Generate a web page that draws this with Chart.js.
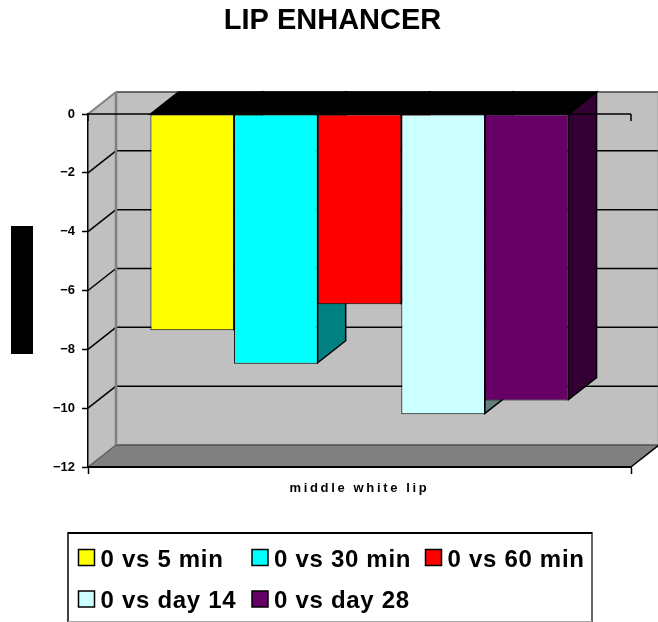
<!DOCTYPE html>
<html>
<head>
<meta charset="utf-8">
<style>html,body{margin:0;padding:0;background:#fff}canvas{display:block}</style>
<script src="https://cdn.jsdelivr.net/npm/chart.js@4"></script>
</head>
<body>
<canvas id="c" width="658" height="622"></canvas>
<script>
const categories = ['middle white lip'];
const seriesNames = ['0 vs 5 min', '0 vs 30 min', '0 vs 60 min', '0 vs day 14', '0 vs day 28'];
const seriesValues = [-7.35, -8.49, -6.47, -10.21, -9.74];
const faceColors = ['#FFFF00', '#00FFFF', '#FF0000', '#CCFFFF', '#660066'];
const sideColors = ['#808000', '#008080', '#800000', '#668080', '#330033'];
const titleText = 'LIP ENHANCER';

const DX = 28, DY = 22;
const FONT = 'Liberation Sans, Arial, sans-serif';

function line(ctx, x1, y1, x2, y2, color, w) {
  ctx.strokeStyle = color; ctx.lineWidth = w;
  ctx.beginPath(); ctx.moveTo(x1, y1); ctx.lineTo(x2, y2); ctx.stroke();
}
function poly(ctx, pts, fill, stroke, w) {
  ctx.beginPath();
  pts.forEach((p, i) => i ? ctx.lineTo(p[0], p[1]) : ctx.moveTo(p[0], p[1]));
  ctx.closePath();
  ctx.fillStyle = fill; ctx.fill();
  if (stroke) { ctx.strokeStyle = stroke; ctx.lineWidth = w; ctx.lineJoin = 'miter'; ctx.stroke(); }
}

const scene3d = {
  id: 'scene3d',
  afterLayout(chart) {
    chart.titleBlock.left = 34;
    chart.titleBlock.right = 631;
    const xs = chart.scales.x;
    if (!xs._spaced) {
      const orig = xs.drawLabels;
      xs.drawLabels = function (a) {
        chart.ctx.letterSpacing = '2.65px';
        orig.call(this, a);
        chart.ctx.letterSpacing = '0px';
      };
      xs._spaced = true;
    }
  },
  beforeDraw(chart) {
    const ctx = chart.ctx, { x, y } = chart.scales;
    const L = x.left, R = x.right, T = y.getPixelForValue(0), B = y.getPixelForValue(-12);
    ctx.save();
    ctx.fillStyle = '#000';
    ctx.fillRect(11, 226, 22, 128);
    // back wall, side wall, floor
    poly(ctx, [[L + DX, T - DY], [R + DX, T - DY], [R + DX, B - DY], [L + DX, B - DY]], '#C0C0C0');
    poly(ctx, [[L, T], [L + DX, T - DY], [L + DX, B - DY], [L, B]], '#C0C0C0');
    poly(ctx, [[L, B], [L + DX, B - DY], [R + DX, B - DY], [R, B]], '#808080');
    y.ticks.forEach(t => {
      if (t.value === 0 || t.value === -12) return;
      const p = y.getPixelForValue(t.value);
      line(ctx, L, p, L + DX, p - DY, '#000', 1.5);
      line(ctx, L + DX, p - DY, R + DX, p - DY, '#000', 1.5);
    });
    line(ctx, L + DX, T - DY, R + DX, T - DY, '#404040', 1.5);
    line(ctx, L + DX, B - DY, R + DX, B - DY, '#505050', 1.5);
    line(ctx, L, T, L + DX, T - DY, '#808080', 2);
    line(ctx, L, B, L + DX, B - DY, '#606060', 1.5);
    line(ctx, L + DX, T - DY, L + DX, B - DY, '#808080', 2.5);
    line(ctx, R + DX - 0.5, T - DY, R + DX - 0.5, B - DY, '#808080', 1.5);
    line(ctx, R, B, R + DX, B - DY, '#000', 1.5);
    ctx.restore();
  },
  beforeDatasetDraw() {
    return false; // bars are painted left to right below, so each front covers its neighbour's side
  },
  afterDatasetsDraw(chart) {
    const ctx = chart.ctx, { x, y } = chart.scales, T = y.getPixelForValue(0);
    ctx.save();
    seriesNames.forEach((_, i) => {
      chart.getDatasetMeta(i).data.forEach(bar => {
        const r = bar.x + bar.width / 2, l = bar.x - bar.width / 2, b = bar.y - 1;
        poly(ctx, [[r, T], [r + DX, T - DY], [r + DX, b - DY], [r, b]], sideColors[i], '#000', 1.5);
        poly(ctx, [[l, T], [l + DX, T - DY], [r + DX, T - DY], [r, T]], '#000', '#000', 1.5);
        bar.draw(ctx);
      });
    });
    line(ctx, x.left, T, x.right, T, '#000', 1.5);
    line(ctx, x.left, T, x.left, T + 7, '#000', 1.5);
    line(ctx, x.right, T, x.right, T + 7, '#000', 1.5);
    ctx.restore();
  },
  afterDraw(chart) {
    const ctx = chart.ctx;
    ctx.save();
    line(ctx, 68, 533, 592, 533, '#000', 2);
    line(ctx, 68, 532, 68, 622, '#000', 1.5);
    line(ctx, 592, 532, 592, 622, '#000', 1.2);
    line(ctx, 68, 621.5, 592, 621.5, '#A8A8A8', 1);
    ctx.font = 'bold 24px ' + FONT;
    ctx.letterSpacing = '0.7px';
    ctx.textBaseline = 'alphabetic'; ctx.textAlign = 'left';
    const cols = [78.5, 252, 425.5, 78.5, 252], rows = [549.5, 549.5, 549.5, 591, 591];
    seriesNames.forEach((name, i) => {
      ctx.fillStyle = faceColors[i];
      ctx.strokeStyle = '#000'; ctx.lineWidth = 1.5;
      ctx.fillRect(cols[i], rows[i], 16, 16);
      ctx.strokeRect(cols[i], rows[i], 16, 16);
      ctx.fillStyle = '#000';
      ctx.fillText(name, cols[i] + 22, rows[i] + 17);
    });
    ctx.letterSpacing = '0px';
    ctx.restore();
  }
};

new Chart(document.getElementById('c'), {
  type: 'bar',
  data: {
    labels: categories,
    datasets: seriesNames.map((name, i) => ({
      label: name,
      data: [seriesValues[i]],
      backgroundColor: faceColors[i],
      borderColor: '#000',
      borderWidth: 1,
      borderSkipped: false
    }))
  },
  options: {
    responsive: false,
    animation: false,
    categoryPercentage: 0.77,
    barPercentage: 1,
    layout: { padding: { left: 28, right: 27, top: 0, bottom: 125 } },
    plugins: {
      legend: { display: false },
      tooltip: { enabled: false },
      title: {
        display: true, text: titleText, color: '#000',
        font: { family: FONT, size: 29, weight: 'bold' },
        padding: { top: 4, bottom: 75.2 }
      }
    },
    scales: {
      x: {
        afterFit(s) { s.height = 30; },
        grid: { drawOnChartArea: false, color: '#000', tickLength: 7, tickWidth: 1.5 },
        border: { color: '#000', width: 2 },
        ticks: { color: '#000', padding: 7, maxRotation: 0, font: { family: FONT, size: 13, weight: 'bold' } }
      },
      y: {
        min: -12, max: 0,
        afterFit(s) { s.width = 60; },
        grid: { drawOnChartArea: false, color: '#000', tickLength: 6, tickWidth: 1.5 },
        border: { color: '#000', width: 1.5 },
        ticks: {
          stepSize: 2, color: '#000', padding: 7,
          font: { family: FONT, size: 13, weight: 'bold' },
          callback: v => String(v).replace('-', '\u2212')
        }
      }
    }
  },
  plugins: [scene3d]
});
</script>
</body>
</html>
